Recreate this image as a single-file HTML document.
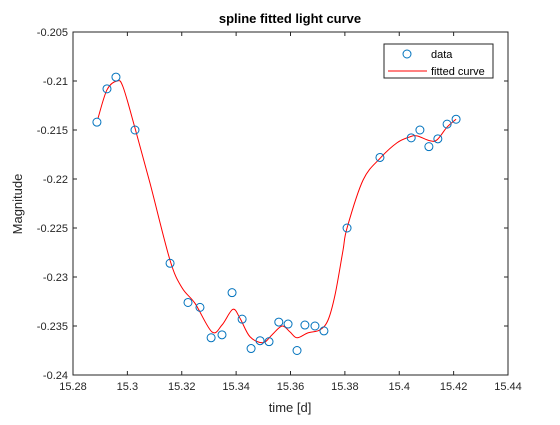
<!DOCTYPE html>
<html><head><meta charset="utf-8"><style>
body{margin:0;background:#fff}
svg text{font-family:"Liberation Sans",sans-serif;fill:#262626}
</style></head><body>
<svg id="chart" width="560" height="420" xmlns="http://www.w3.org/2000/svg">
<rect width="560" height="420" fill="#fff"/>
<g id="axes"></g>
<g id="marks"></g>
<text x="290" y="23" text-anchor="middle" font-size="13" font-weight="bold" style="fill:#000">spline fitted light curve</text>
<text x="290" y="412" text-anchor="middle" font-size="13">time [d]</text>
<text transform="translate(22,204) rotate(-90)" text-anchor="middle" font-size="13">Magnitude</text>
<g>
<rect x="384" y="44" width="109" height="34" fill="#fff" stroke="#262626" stroke-width="1"/>
<circle cx="407" cy="54" r="4" fill="none" stroke="#0072bd"/>
<text x="431" y="58" font-size="11" style="fill:#000">data</text>
<line x1="388" y1="71" x2="427" y2="71" stroke="#ff0000"/>
<text x="431" y="75" font-size="11" style="fill:#000">fitted curve</text>
</g>
</svg>
<script>
const xTicks=[15.28,15.3,15.32,15.34,15.36,15.38,15.4,15.42,15.44];
const yTicks=[-0.205,-0.21,-0.215,-0.22,-0.225,-0.23,-0.235,-0.24];
const yTickLabels=["-0.205","-0.21","-0.215","-0.22","-0.225","-0.23","-0.235","-0.24"];
const dataX=[15.2888,15.2925,15.2958,15.3028,15.3157,15.3223,15.3267,15.3308,15.3348,15.3385,15.3422,15.3455,15.3488,15.3521,15.3557,15.3591,15.3624,15.3653,15.3690,15.3723,15.3808,15.3929,15.4044,15.4076,15.4109,15.4142,15.4176,15.4209];
const dataY=[-0.2142,-0.2108,-0.2096,-0.2150,-0.2286,-0.2326,-0.2331,-0.2362,-0.2359,-0.2316,-0.2343,-0.2373,-0.2365,-0.2366,-0.2346,-0.2348,-0.2375,-0.2349,-0.2350,-0.2355,-0.2250,-0.2178,-0.2158,-0.2150,-0.2167,-0.2159,-0.2144,-0.2139];
const fitX=[15.2892,15.2925,15.2962,15.2984,15.3028,15.3083,15.3157,15.3201,15.3249,15.3311,15.3348,15.3388,15.3414,15.3451,15.3499,15.3532,15.3569,15.3598,15.3624,15.3664,15.3708,15.3738,15.3764,15.3793,15.3808,15.3867,15.3929,15.3992,15.4039,15.4065,15.4113,15.4139,15.4176,15.4209];
const fitY=[-0.2138,-0.2109,-0.2100,-0.2106,-0.2148,-0.2204,-0.2283,-0.2311,-0.2327,-0.2356,-0.2349,-0.2333,-0.2342,-0.2361,-0.2367,-0.2359,-0.2350,-0.2356,-0.2362,-0.2357,-0.2354,-0.2344,-0.2318,-0.2273,-0.2250,-0.2201,-0.2179,-0.2163,-0.2157,-0.2156,-0.2161,-0.2160,-0.2147,-0.2139];
const L=73,R=508,T=32,B=375;
const xS=v=>L+(v-15.28)/(15.44-15.28)*(R-L);
const yS=v=>T+(-0.205-v)/(0.035)*(B-T);
const NS="http://www.w3.org/2000/svg";
const axes=document.getElementById('axes'),marks=document.getElementById('marks');
function mk(tag,attrs,parent){const e=document.createElementNS(NS,tag);for(const k in attrs)e.setAttribute(k,attrs[k]);parent.appendChild(e);return e;}
const box=mk('rect',{x:L,y:T,width:R-L,height:B-T,fill:'none',stroke:'#262626','stroke-width':1},axes);


xTicks.forEach(t=>{const x=xS(t);
mk('line',{x1:x,x2:x,y1:B,y2:B-4,stroke:'#262626'},axes);
mk('line',{x1:x,x2:x,y1:T,y2:T+4,stroke:'#262626'},axes);
const tx=mk('text',{x:x,y:B+15,'text-anchor':'middle','font-size':11},axes);tx.textContent=String(t);

});
yTicks.forEach((t,i)=>{const y=yS(t);
mk('line',{x1:L,x2:L+4,y1:y,y2:y,stroke:'#262626'},axes);
mk('line',{x1:R,x2:R-4,y1:y,y2:y,stroke:'#262626'},axes);
const tx=mk('text',{x:L-5,y:y+4,'text-anchor':'end','font-size':11},axes);tx.textContent=yTickLabels[i];

});
const P=fitX.map((x,i)=>[xS(x),yS(fitY[i])]);
let d='M'+P[0][0]+','+P[0][1];
for(let i=0;i<P.length-1;i++){const p0=P[Math.max(0,i-1)],p1=P[i],p2=P[i+1],p3=P[Math.min(P.length-1,i+2)];
d+=' C'+(p1[0]+(p2[0]-p0[0])/6)+','+(p1[1]+(p2[1]-p0[1])/6)+' '+(p2[0]-(p3[0]-p1[0])/6)+','+(p2[1]-(p3[1]-p1[1])/6)+' '+p2[0]+','+p2[1];}
const curve=mk('path',{d:d,fill:'none',stroke:'#ff0000','stroke-width':1},marks);


dataX.forEach((x,i)=>{const c=mk('circle',{cx:xS(x),cy:yS(dataY[i]),r:4,fill:'none',stroke:'#0072bd','stroke-width':1},marks);

});
</script>
</body></html>
